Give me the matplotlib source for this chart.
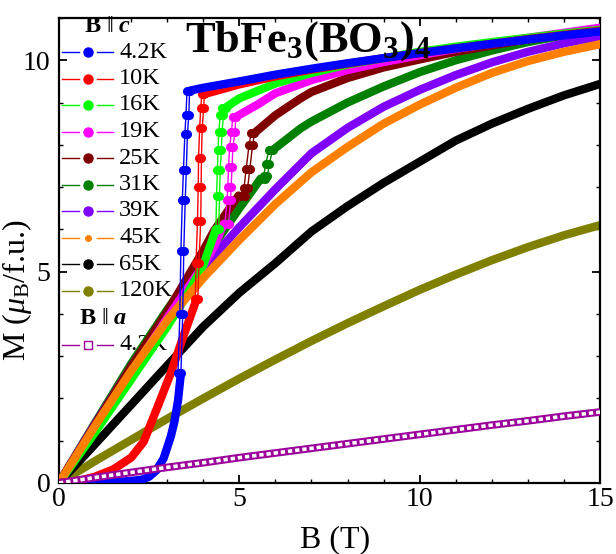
import matplotlib
matplotlib.use('Agg')
import matplotlib.pyplot as plt
from matplotlib.lines import Line2D
from matplotlib.ticker import MultipleLocator

plt.rcParams['font.family'] = 'Liberation Serif'
plt.rcParams['mathtext.fontset'] = 'custom'
plt.rcParams['mathtext.rm'] = 'Liberation Serif'
plt.rcParams['mathtext.it'] = 'Liberation Serif:italic'
plt.rcParams['mathtext.bf'] = 'Liberation Serif:bold'
plt.rcParams['mathtext.bfit'] = 'Liberation Serif:bold:italic'

# ---- data: B in T, M in mu_B/f.u. ----
B_grid = [0, 1, 2, 3, 4, 5, 6, 7, 8, 9, 10, 11, 12, 13, 14, 15]

# B || c, curves with a metamagnetic jump: lower branch, jump points, upper branch
blue_lo_B = [0, 0.5, 1.0, 1.5, 2.0, 2.3, 2.5, 2.7, 2.9, 3.1, 3.2, 3.3, 3.38]
blue_lo_M = [0, 0, 0.01, 0.02, 0.05, 0.08, 0.15, 0.3, 0.58, 1.1, 1.45, 1.95, 2.6]
blue_jump_M = [2.6, 4.0, 5.5, 6.7, 7.4, 8.25, 8.7, 9.28]
blue_jump_up = [3.38, 3.43, 3.46, 3.5, 3.53, 3.56, 3.6, 3.62]
blue_jump_dn = [3.3, 3.35, 3.38, 3.42, 3.45, 3.49, 3.52, 3.55]
blue_hi_B = [3.62, 4, 5, 6, 7, 8, 9, 10, 11, 12, 13, 14, 15]
blue_hi_M = [9.28, 9.35, 9.5, 9.66, 9.8, 9.93, 10.05, 10.17, 10.28, 10.39, 10.49, 10.59, 10.68]

red_lo_B = [0, 0.5, 1.0, 1.5, 2.0, 2.35, 2.77, 3.1, 3.46, 3.82]
red_lo_M = [0, 0.04, 0.15, 0.32, 0.6, 0.98, 1.88, 2.6, 3.5, 4.36]
red_jump_M = [4.36, 5.2, 6.2, 7.0, 7.7, 8.4, 8.86, 9.2]
red_jump_up = [3.85, 3.88, 3.93, 3.94, 3.95, 3.97, 4.01, 4.03]
red_jump_dn = [3.78, 3.8, 3.84, 3.86, 3.87, 3.9, 3.93, 3.96]
red_hi_B = [4.03, 5, 6, 7, 8, 9, 10, 11, 12, 13, 14, 15]
red_hi_M = [9.2, 9.43, 9.62, 9.78, 9.92, 10.05, 10.17, 10.28, 10.39, 10.5, 10.6, 10.7]

g16_lo_B = [0, 1, 2, 3, 3.5, 4.0, 4.35]
g16_lo_M = [0, 1.2, 2.45, 3.7, 4.38, 5.15, 6.0]
g16_jump_M = [6.0, 6.8, 7.4, 7.87, 8.3, 8.7, 8.88]
g16_jump_up = [4.43, 4.45, 4.47, 4.5, 4.52, 4.56, 4.62]
g16_jump_dn = [4.35, 4.37, 4.39, 4.41, 4.43, 4.47, 4.52]
g16_hi_B = [4.62, 5, 6, 7, 8, 9, 10, 11, 12, 13, 14, 15]
g16_hi_M = [8.88, 9.1, 9.45, 9.7, 9.9, 10.05, 10.2, 10.32, 10.43, 10.53, 10.63, 10.72]

p19_lo_B = [0, 1, 2, 3, 4, 4.3, 4.57]
p19_lo_M = [0, 1.28, 2.6, 3.9, 5.15, 5.6, 6.13]
p19_jump_M = [6.13, 6.7, 7.0, 7.47, 7.94, 8.3, 8.66]
p19_jump_up = [4.7, 4.76, 4.77, 4.8, 4.82, 4.88, 4.9]
p19_jump_dn = [4.6, 4.66, 4.68, 4.7, 4.73, 4.78, 4.82]
p19_hi_B = [4.9, 5.5, 6, 7, 8, 9, 10, 11, 12, 13, 14, 15]
p19_hi_M = [8.66, 8.95, 9.22, 9.53, 9.77, 9.96, 10.12, 10.27, 10.4, 10.53, 10.65, 10.77]

dr25_lo_B = [0, 1, 2, 3, 4, 4.3, 4.98]
dr25_lo_M = [0, 1.38, 2.75, 4.05, 5.5, 5.97, 6.8]
dr25_jump_M = [6.8, 6.98, 7.43, 8.0, 8.28]
dr25_jump_up = [5.15, 5.23, 5.29, 5.37, 5.42]
dr25_jump_dn = [5.05, 5.13, 5.19, 5.27, 5.33]
dr25_hi_B = [5.42, 6, 6.7, 7, 8, 9, 10, 11, 12, 13, 14, 15]
dr25_hi_M = [8.28, 8.7, 9.1, 9.25, 9.58, 9.83, 10.02, 10.2, 10.35, 10.5, 10.63, 10.75]

dg31_lo_B = [0, 1, 2, 3, 4, 4.5, 5, 5.3, 5.59]
dg31_lo_M = [0, 1.42, 2.82, 4.1, 5.3, 5.88, 6.5, 6.85, 7.2]
dg31_jump_M = [7.2, 7.27, 7.54, 7.87]
dg31_jump_up = [5.7, 5.78, 5.83, 5.92]
dg31_jump_dn = [5.6, 5.68, 5.73, 5.82]
dg31_hi_B = [5.92, 6.7, 7, 8, 9, 10, 11, 12, 13, 14, 15]
dg31_hi_M = [7.87, 8.39, 8.55, 9.0, 9.38, 9.72, 10.0, 10.23, 10.43, 10.59, 10.72]

# B || c, smooth curves
M_39K = [0, 1.4, 2.75, 4.0, 5.1, 6.05, 6.95, 7.8, 8.4, 8.9, 9.3, 9.65, 9.95, 10.2, 10.4, 10.56]
M_45K = [0, 1.35, 2.65, 3.85, 4.85, 5.75, 6.6, 7.35, 7.95, 8.5, 8.95, 9.35, 9.7, 9.98, 10.2, 10.38]
M_65K = [0, 0.92, 1.85, 2.78, 3.7, 4.5, 5.2, 5.95, 6.55, 7.1, 7.6, 8.1, 8.5, 8.85, 9.17, 9.44]
M_120K = [0, 0.52, 1.02, 1.52, 2.0, 2.47, 2.92, 3.36, 3.78, 4.18, 4.57, 4.93, 5.27, 5.58, 5.86, 6.1]

# B || a, 4.2 K
M_a_4K = [0, 0.13, 0.25, 0.37, 0.48, 0.6, 0.71, 0.82, 0.93, 1.04, 1.15, 1.26, 1.37, 1.47, 1.58, 1.68]

labels_c = ['4.2K', '10K', '16K', '19K', '25K', '31K', '39K', '45K', '65K', '120K']

c_blue = '#0000ff'
c_red = '#ff0000'
c_green = '#00ff00'
c_pink = '#ff00ff'
c_dred = '#800000'
c_dgreen = '#008000'
c_purple = '#8000ff'
c_orange = '#ff8000'
c_black = '#000000'
c_olive = '#808000'
c_a = '#9b009b'
colors_c = [c_blue, c_red, c_green, c_pink, c_dred, c_dgreen, c_purple, c_orange, c_black, c_olive]

BAND = 6.0
W, H = 616, 554
X0, X1, Y0, Y1 = 59, 600, 18, 483   # axes box in pixels

fig = plt.figure(figsize=(W / 100, H / 100), dpi=100)
ax = fig.add_axes([X0 / W, (H - Y1) / H, (X1 - X0) / W, (Y1 - Y0) / H])
ax.patch.set_visible(False)   # legend sits under the curves, as in the original


def band(x, y, color, z):
    ax.plot(x, y, color=color, lw=BAND, solid_capstyle='round',
            solid_joinstyle='round', zorder=z)


def jump_curve(lo_B, lo_M, j_M, j_up, j_dn, hi_B, hi_M, color, z):
    band(lo_B, lo_M, color, z)
    band(hi_B, hi_M, color, z)
    for jb in (j_up, j_dn):
        ax.plot(jb, j_M, color=color, lw=1.0, marker='o', ms=5.5,
                mec=color, mfc=color, zorder=z + 0.5)


band(B_grid, M_120K, c_olive, 2)
band(B_grid, M_65K, c_black, 3)
jump_curve(dg31_lo_B, dg31_lo_M, dg31_jump_M, dg31_jump_up, dg31_jump_dn,
           dg31_hi_B, dg31_hi_M, c_dgreen, 4)
band(B_grid, M_39K, c_purple, 5)
jump_curve(dr25_lo_B, dr25_lo_M, dr25_jump_M, dr25_jump_up, dr25_jump_dn,
           dr25_hi_B, dr25_hi_M, c_dred, 6)
jump_curve(p19_lo_B, p19_lo_M, p19_jump_M, p19_jump_up, p19_jump_dn,
           p19_hi_B, p19_hi_M, c_pink, 7)
jump_curve(g16_lo_B, g16_lo_M, g16_jump_M, g16_jump_up, g16_jump_dn,
           g16_hi_B, g16_hi_M, c_green, 8)
band(B_grid, M_45K, c_orange, 9)
jump_curve(red_lo_B, red_lo_M, red_jump_M, red_jump_up, red_jump_dn,
           red_hi_B, red_hi_M, c_red, 10)
jump_curve(blue_lo_B, blue_lo_M, blue_jump_M, blue_jump_up, blue_jump_dn,
           blue_hi_B, blue_hi_M, c_blue, 11)

# open squares B || a drawn as a hollow band
ax.plot(B_grid, M_a_4K, color=c_a, lw=5.5, solid_capstyle='butt', zorder=12)
ax.plot(B_grid, M_a_4K, color='white', lw=2.6, dashes=(1.2, 0.8), zorder=13)

ax.set_xlim(0, 15)
ax.set_ylim(0, 11)
ax.xaxis.set_major_locator(MultipleLocator(5))
ax.xaxis.set_minor_locator(MultipleLocator(1))
ax.yaxis.set_major_locator(MultipleLocator(5))
ax.yaxis.set_minor_locator(MultipleLocator(1))
ax.tick_params(which='both', direction='in', top=True, right=True)
ax.tick_params(which='major', length=6, width=1.3, labelsize=20)
ax.tick_params(axis='x', which='major', pad=3)
ax.tick_params(axis='y', which='major', pad=6)
ax.tick_params(which='minor', length=3, width=1.0)
for s in ax.spines.values():
    s.set_linewidth(1.6)

ax.set_xlabel('B (T)', fontsize=23)
ax.xaxis.set_label_coords((335 - X0) / (X1 - X0), (Y1 - 540) / (Y1 - Y0))
ax.xaxis.label.set_va('center')
ax.set_ylabel(r'M ($\mu_{\rm B}$/f.u.)', fontsize=23)
ax.yaxis.set_label_coords((17 - X0) / (X1 - X0), (Y1 - 290) / (Y1 - Y0))
ax.yaxis.label.set_va('center')

ax.text(3.49, 10.2, r'$\mathbf{TbFe_3(BO_3)_4}$', fontsize=32, va='baseline', zorder=20)


# legend drawn in figure pixels, Origin style (line broken around the marker)
def px(x, y):
    return x / W, 1 - y / H


def legend_row(y, label, color, marker, ms, mfc):
    for x0, x1 in ((62, 79), (97, 113)):
        fig.add_artist(Line2D([px(x0, y)[0], px(x1, y)[0]], [px(x0, y)[1]] * 2,
                              color=color, lw=1.0, transform=fig.transFigure, zorder=-1))
    fig.add_artist(Line2D([px(88, y)[0]], [px(88, y)[1]], color=color, marker=marker,
                          ms=ms, mec=color, mfc=mfc, transform=fig.transFigure, zorder=-1))
    fig.text(*px(119, y), label, fontsize=17.5, va='center', ha='left', zorder=-1)


fig.text(*px(108, 26), r'$\mathbf{B}\ \|\ \mathbfit{c}$', fontsize=17.5,
         ha='center', va='center', zorder=-1)
for i, (lab, col) in enumerate(zip(labels_c, colors_c)):
    legend_row(52 + 26.5 * i, lab, col, 'o', 4.0 if lab == '45K' else 6.5, col)
fig.text(*px(103, 318), r'$\mathbf{B}\ \|\ \mathbfit{a}$', fontsize=17.5,
         ha='center', va='center', zorder=-1)
legend_row(345, '4.2K', c_a, 's', 6, 'white')

fig.savefig('out.png', dpi=100, facecolor='white')
